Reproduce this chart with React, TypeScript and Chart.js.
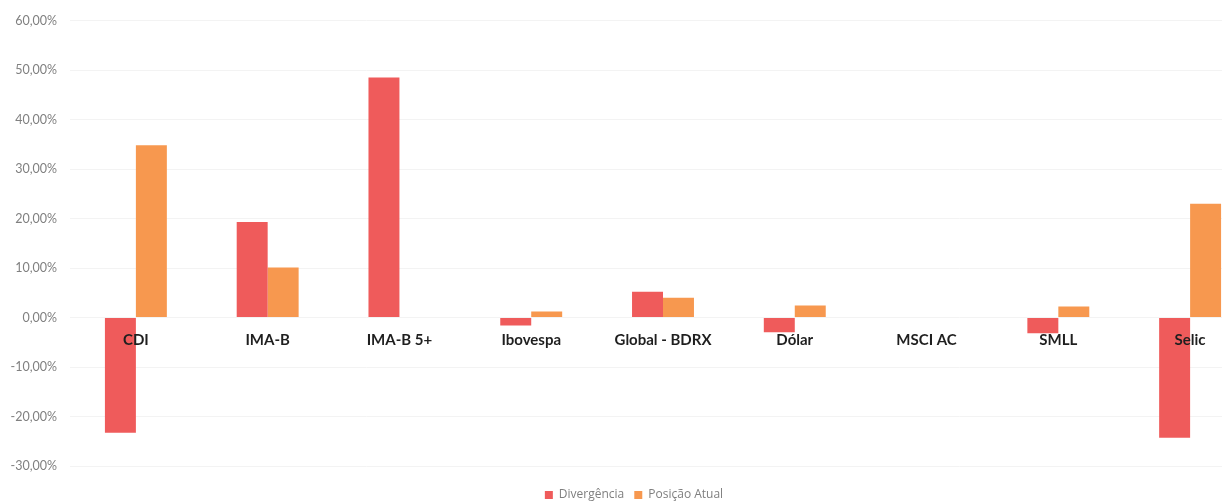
import React, { useEffect, useRef } from 'react';
import { Chart, registerables } from 'chart.js';

Chart.register(...registerables);

const categories = ['CDI', 'IMA-B', 'IMA-B 5+', 'Ibovespa', 'Global - BDRX', 'Dólar', 'MSCI AC', 'SMLL', 'Selic'];
const divergencia = [-23.3, 19.3, 48.5, -1.6, 5.2, -3.0, 0, -3.2, -24.3];
const posicaoAtual = [34.8, 10.1, 0, 1.2, 4.0, 2.4, 0, 2.2, 23.0];
const seriesNames = ['Divergência', 'Posição Atual'];
const yMin = -30;
const yMax = 60;
const yStep = 10;

const fmtPct = (v: number) => v.toFixed(2).replace('.', ',') + '%';

const legendShift = {
  id: 'legendShift',
  afterLayout(chart: any) {
    const lg = chart.legend;
    if (!lg) return;
    lg.top += 13;
    lg.bottom += 13;
    lg.left += 6;
    lg.right += 6;
  },
};

export default function App() {
  const ref = useRef<HTMLCanvasElement>(null);
  useEffect(() => {
    const chart = new Chart(ref.current!, {
      type: 'bar',
      data: {
        labels: categories,
        datasets: [
          { label: seriesNames[0], data: divergencia, backgroundColor: '#EF5B5B', categoryPercentage: 0.47, barPercentage: 1 },
          { label: seriesNames[1], data: posicaoAtual, backgroundColor: '#F7984F', categoryPercentage: 0.47, barPercentage: 1 },
        ],
      },
      options: {
        responsive: false,
        animation: false,
        layout: { padding: { top: 6, right: 4, bottom: 6, left: 0 } },
        plugins: {
          legend: {
            position: 'bottom',
            labels: {
              boxWidth: 8,
              boxHeight: 8,
              padding: 10,
              color: '#7f7f7f',
              font: { family: 'Open Sans', size: 12 },
            },
          },
          tooltip: { enabled: false },
        },
        scales: {
          x: {
            position: { y: 0 } as any,
            grid: { display: false, drawTicks: false },
            border: { display: false },
            ticks: {
              z: 1,
              padding: 14,
              maxRotation: 0,
              autoSkip: false,
              color: '#1f1f1f',
              font: { family: 'Lato', size: 15, weight: 'bold' },
            },
          },
          y: {
            min: yMin,
            max: yMax,
            afterFit: (s: any) => { s.width = 70; },
            grid: { color: '#f3f3f3', drawTicks: false },
            border: { display: false },
            ticks: {
              stepSize: yStep,
              padding: 13,
              color: '#808080',
              font: { family: 'Lato', size: 12.5 },
              callback: (v: any) => fmtPct(Number(v)),
            },
          },
        },
      },
      plugins: [legendShift],
    });
    return () => chart.destroy();
  }, []);
  return (
    <div style={{ position: 'fixed', left: 0, top: 0, width: 1222, height: 504, overflow: 'hidden', background: '#fff' }}>
      <canvas ref={ref} width={1260} height={504} style={{ display: 'block' }} />
    </div>
  );
}
